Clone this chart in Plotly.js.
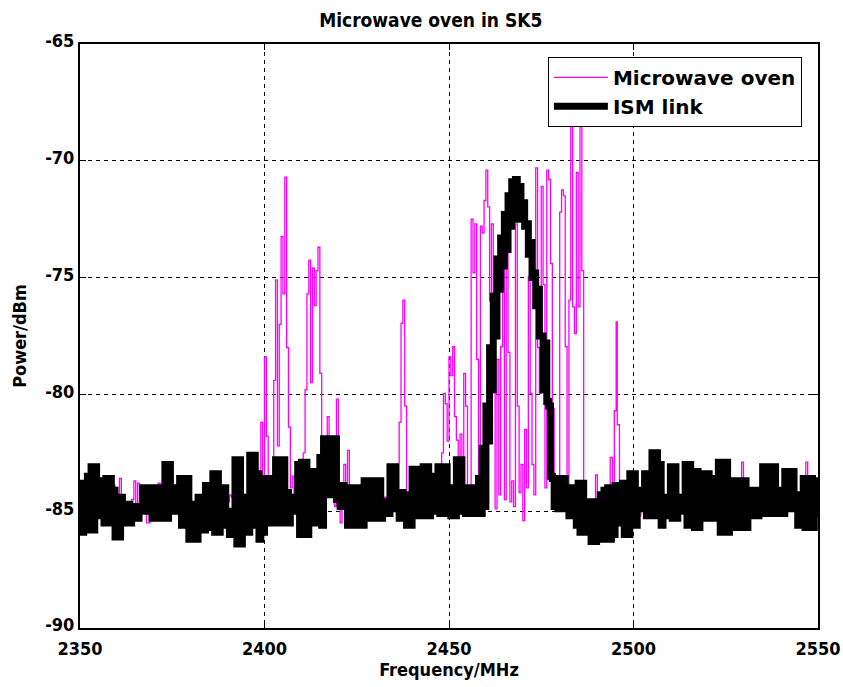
<!DOCTYPE html>
<html>
<head>
<meta charset="utf-8">
<script src="https://cdn.plot.ly/plotly-3.0.1.min.js"></script>
<style>
  html, body { margin: 0; padding: 0; background: #ffffff; }
  #chart { width: 843px; height: 687px; }
</style>
</head>
<body>
<div id="chart"></div>
<script>
// ---------------- DATA ----------------
// Microwave oven spectrum (frequency in MHz, power in dBm)
const micFreq = [
  2350,2351,2352,2353,2354,2355,2356,2357,2358,2359,
  2359.5,2360,2360.7,2361.2,2362,2363,2364,2364.6,2365.1,2365.6,
  2366.1,2367,2368,2369,2370,2371.2,2371.7,2372.5,2374,2375,
  2376,2377,2378,2379,2380,2381,2382,2383,2384,2385,
  2386,2387,2388,2389,2390,2390.5,2391,2391.5,2392,2393,
  2394,2395,2396,2397,2398,2398.5,2399,2399.5,2400,2400.5,
  2401,2401.5,2402,2402.5,2403,2403.5,2404,2404.5,2405,2405.5,
  2406,2406.5,2407,2407.5,2408,2408.5,2409,2409.5,2410,2410.5,
  2411,2411.5,2412,2412.5,2413,2413.5,2414,2414.5,2415,2415.5,
  2416,2416.5,2417,2417.5,2418,2418.5,2419,2419.5,2420,2420.5,
  2421,2421.5,2422,2422.5,2423,2423.5,2424,2425,2426,2426.8,
  2427.3,2428,2429,2430,2431,2432,2432.6,2433,2434,2435,
  2436,2436.5,2437,2437.5,2438,2438.5,2439,2440,2441,2442,
  2443,2444,2445,2446,2447,2447.5,2448,2448.5,2449,2449.5,
  2450,2450.5,2451,2451.5,2452,2452.5,2453,2453.5,2454,2454.5,
  2455,2455.5,2456,2456.5,2457,2457.5,2458,2458.5,2459,2459.5,
  2460,2460.5,2461,2461.5,2462,2462.5,2463,2463.5,2464,2464.5,
  2465,2465.5,2466,2466.5,2467,2467.5,2468,2468.5,2469,2469.5,
  2470,2470.5,2471,2471.5,2472,2472.5,2473,2473.5,2474,2474.5,
  2475,2475.5,2476,2476.5,2477,2477.5,2478,2478.5,2479,2479.5,
  2480,2480.5,2481,2481.5,2482,2482.5,2483,2483.5,2484,2484.5,
  2485,2485.5,2486,2486.5,2487,2488,2489,2489.7,2490.2,2491,
  2492,2493,2493.7,2494.3,2494.8,2495.3,2495.6,2496.2,2497,2498,
  2499,2500,2501,2502,2503,2504,2505,2506,2507,2508,
  2509,2510,2511,2512,2513,2514,2515,2516,2517,2518,
  2519,2520,2521,2522,2523,2524,2525,2526,2527,2528,
  2529,2529.3,2529.8,2530.5,2531,2532,2533,2534,2535,2536,
  2537,2537.9,2538.4,2539,2540,2541,2542,2543,2544,2545,
  2546,2546.7,2547.2,2548,2549,2550
];
const micPower = [
  -85.0,-84.6,-85.3,-84.7,-85.2,-84.8,-85.4,-84.9,-85.2,-83.9,
  -85.0,-84.6,-83.6,-85.1,-84.8,-85.0,-84.5,-83.7,-84.9,-83.8,
  -84.6,-85.0,-85.5,-85.3,-84.7,-83.8,-84.9,-85.1,-84.8,-85.0,
  -84.6,-85.2,-84.7,-85.0,-84.9,-85.2,-84.8,-85.1,-84.6,-85.0,
  -84.8,-85.3,-84.7,-85.0,-84.6,-84.3,-84.4,-85.0,-84.8,-85.2,
  -84.7,-85.0,-84.5,-84.9,-85.1,-84.6,-81.2,-84.5,-78.4,-81.8,
  -84.8,-85.3,-84.9,-79.4,-75.1,-82.2,-77.0,-73.25,-75.7,-70.7,
  -78.0,-81.4,-84.0,-83.5,-85.0,-84.7,-85.2,-84.8,-85.0,-82.5,
  -79.8,-75.7,-74.25,-79.5,-74.6,-76.2,-74.7,-73.7,-79.1,-83.0,
  -84.5,-83.5,-80.95,-83.0,-84.3,-83.8,-84.8,-80.2,-84.9,-85.5,
  -84.8,-83.0,-84.5,-82.4,-84.6,-85.0,-84.8,-85.1,-84.7,-83.7,
  -85.0,-84.6,-85.1,-84.8,-85.2,-84.9,-84.4,-85.1,-84.8,-85.0,
  -84.7,-81.2,-76.96,-75.96,-80.5,-84.6,-85.0,-84.7,-85.2,-84.8,
  -85.0,-84.6,-85.1,-84.8,-85.0,-84.0,-82.5,-79.96,-80.4,-82.0,
  -78.4,-79.2,-77.96,-80.95,-81.96,-84.0,-81.7,-83.5,-79.1,-80.5,
  -83.95,-84.8,-72.5,-74.8,-72.7,-78.5,-84.0,-72.8,-73.1,-71.7,
  -70.4,-71.97,-76.0,-72.7,-77.96,-84.9,-78.5,-84.3,-77.96,-72.97,
  -84.5,-71.5,-78.2,-84.6,-83.7,-84.8,-72.7,-80.5,-84.2,-83.0,
  -85.4,-81.5,-84.0,-74.96,-79.96,-83.0,-84.3,-70.3,-78.0,-79.96,
  -71.1,-75.3,-84.0,-70.4,-70.8,-74.4,-80.6,-84.6,-84.8,-83.5,
  -72.2,-71.25,-71.5,-77.96,-84.5,-75.96,-68.5,-76.25,-77.4,-70.5,
  -76.25,-68.26,-74.7,-84.5,-85.0,-84.6,-85.1,-83.45,-84.9,-85.2,
  -84.7,-85.0,-82.7,-84.3,-80.7,-76.9,-81.3,-84.8,-85.3,-84.8,
  -85.0,-84.6,-85.2,-84.8,-85.1,-84.7,-85.0,-84.8,-85.3,-84.9,
  -85.0,-84.6,-85.2,-84.8,-85.0,-84.7,-85.1,-84.9,-85.0,-84.6,
  -85.2,-84.8,-85.0,-84.5,-85.1,-84.8,-85.0,-84.7,-85.3,-84.8,
  -84.5,-82.9,-84.9,-85.2,-84.8,-85.0,-84.7,-85.1,-84.8,-85.0,
  -84.6,-83.1,-85.0,-84.3,-85.1,-84.8,-85.0,-84.7,-85.2,-84.9,
  -85.0,-82.9,-84.8,-85.1,-84.7,-85.0
];

// ISM link spectrum: sweep 2350..2550 MHz, 1 MHz bins; upper and lower
// excursions of the trace inside each bin (dBm)
const ismStartMHz = 2350;
const ismStepMHz = 1;
const ismHi = [
  -83.8,-83.8,-83.5,-83.1,-83.1,-83.7,-84.1,-83.6,-83.6,-84.1,
  -84.4,-84.4,-84.7,-84.7,-84.8,-84.8,-84.8,-84.0,-84.0,-84.0,
  -84.0,-84.0,-84.6,-83.0,-83.0,-84.0,-84.0,-83.6,-83.6,-83.6,
  -84.7,-84.7,-84.4,-84.4,-83.9,-83.9,-83.4,-83.4,-84.3,-84.0,
  -85.0,-85.0,-82.8,-82.8,-84.4,-84.4,-82.6,-82.6,-83.4,-83.9,
  -83.6,-83.6,-84.7,-82.8,-82.8,-82.8,-84.2,-84.4,-84.4,-83.0,
  -82.9,-82.9,-84.4,-83.3,-83.3,-82.7,-81.9,-81.9,-81.9,-81.9,
  -83.9,-83.9,-84.0,-84.0,-84.0,-84.0,-84.0,-83.7,-83.7,-83.7,
  -83.7,-83.7,-84.6,-84.6,-83.1,-83.1,-84.2,-84.2,-84.3,-84.3,
  -83.2,-83.2,-84.2,-83.1,-83.1,-83.5,-83.5,-83.1,-83.1,-83.1,
  -84.0,-84.0,-82.8,-82.8,-84.0,-84.0,-84.0,-84.0,-83.6,-82.3,
  -80.5,-78.0,-75.8,-74.2,-73.3,-72.3,-71.5,-70.9,-70.8,-71.1,
  -71.8,-72.7,-73.5,-74.8,-75.5,-77.5,-77.8,-80.5,-83.6,-83.6,
  -83.6,-83.6,-84.0,-84.0,-84.4,-83.8,-83.8,-84.7,-84.6,-84.6,
  -84.7,-84.3,-84.1,-84.0,-84.1,-83.9,-83.9,-83.8,-83.8,-83.4,
  -83.4,-84.1,-84.1,-83.4,-83.4,-82.5,-82.5,-83.0,-84.4,-84.4,
  -83.1,-83.1,-84.4,-84.4,-83.0,-83.0,-83.3,-83.3,-83.4,-83.4,
  -83.4,-83.6,-83.6,-82.9,-82.9,-82.9,-83.7,-83.7,-83.7,-83.7,
  -83.7,-84.1,-84.1,-84.1,-84.4,-83.1,-83.1,-83.1,-83.1,-84.1,
  -84.1,-83.3,-83.3,-83.3,-84.3,-84.3,-83.6,-83.6,-83.6,-83.7,
  -83.7
];
const ismLo = [
  -85.9,-85.8,-85.8,-85.8,-85.2,-85.2,-85.5,-85.5,-85.5,-86.1,
  -86.1,-85.5,-85.5,-85.5,-85.3,-85.3,-85.0,-85.0,-85.0,-85.3,
  -85.3,-85.3,-85.3,-85.3,-85.0,-85.0,-85.0,-85.6,-85.6,-86.2,
  -86.2,-86.2,-85.8,-85.8,-85.7,-85.7,-85.9,-85.9,-85.6,-85.6,
  -86.0,-86.0,-86.4,-86.4,-85.9,-85.9,-85.6,-85.6,-86.2,-85.9,
  -85.5,-85.5,-85.5,-85.5,-85.5,-85.5,-85.5,-85.0,-85.0,-86.0,
  -86.0,-86.0,-84.8,-85.5,-85.5,-85.6,-84.3,-84.3,-84.3,-84.5,
  -84.8,-84.8,-85.6,-85.6,-85.6,-85.6,-85.6,-85.3,-85.3,-85.3,
  -85.3,-85.3,-85.1,-85.1,-84.9,-84.9,-85.3,-85.3,-85.6,-85.6,
  -85.2,-85.2,-85.1,-85.2,-85.2,-85.0,-85.0,-85.1,-85.1,-85.1,
  -85.2,-85.2,-85.0,-85.0,-85.1,-85.1,-85.1,-85.1,-85.1,-84.8,
  -82.0,-79.8,-77.5,-75.5,-74.5,-73.8,-72.8,-72.3,-72.5,-72.5,
  -72.8,-74.0,-75.0,-76.2,-77.5,-79.8,-80.3,-83.5,-84.8,-84.9,
  -84.9,-84.9,-85.2,-85.2,-85.6,-85.9,-85.9,-85.9,-86.3,-86.3,
  -85.9,-86.2,-86.2,-86.2,-86.0,-85.5,-85.5,-86.0,-86.0,-85.6,
  -85.6,-84.9,-84.9,-85.2,-85.2,-85.2,-85.2,-85.6,-85.2,-85.2,
  -85.3,-85.3,-85.0,-85.0,-85.6,-85.6,-85.7,-85.7,-85.2,-85.3,
  -85.3,-85.3,-85.3,-85.9,-85.9,-85.9,-85.6,-85.7,-85.7,-85.7,
  -85.7,-85.2,-85.2,-85.2,-84.9,-85.1,-85.1,-85.1,-85.1,-85.1,
  -85.1,-84.9,-84.9,-84.9,-85.6,-85.6,-85.7,-85.7,-85.7,-85.1,
  -85.1
];

const xTicks = [2350, 2400, 2450, 2500, 2550];
const yTicks = [-90, -85, -80, -75, -70, -65];

// ---------------- BUILD TRACES ----------------
const ismX = [], ismY = [];
for (let i = 0; i < ismHi.length; i++) {
  const f = ismStartMHz + i * ismStepMHz;
  ismX.push(f, f + ismStepMHz / 2);
  ismY.push(ismHi[i], ismLo[i]);
}

const fontNarrow = "'DejaVu Sans Condensed', 'Liberation Sans Narrow', 'Liberation Sans', Arial, sans-serif";
const fontWide = "'DejaVu Sans', 'Liberation Sans', Arial, sans-serif";

const traces = [
  {
    x: micFreq, y: micPower, type: 'scatter', mode: 'lines',
    name: 'Microwave oven',
    line: { color: '#ff00ff', width: 1.3, shape: 'hv', simplify: false }
  },
  {
    x: ismX, y: ismY, type: 'scatter', mode: 'lines',
    name: 'ISM link',
    line: { color: '#000000', width: 7, shape: 'hv', simplify: false }
  }
];

const axisCommon = {
  showline: true, linecolor: '#000', linewidth: 2, mirror: 'ticks',
  ticks: 'inside', ticklen: 6, tickcolor: '#000', tickwidth: 1,
  showgrid: true, gridcolor: '#000', gridwidth: 1, griddash: '4px,4px',
  zeroline: false,
  tickfont: { family: fontNarrow, size: 18, color: '#000', weight: 'bold' }
};

const layout = {
  width: 843, height: 687,
  margin: { l: 80, r: 25, t: 44, b: 59, pad: 0 },
  paper_bgcolor: '#fff', plot_bgcolor: '#fff',
  showlegend: true,
  title: {
    text: 'Microwave oven in SK5',
    font: { family: fontNarrow, size: 19, color: '#000', weight: 'bold' },
    xref: 'container', x: 0.511, xanchor: 'center',
    yref: 'container', y: 0.971, yanchor: 'middle'
  },
  xaxis: Object.assign({}, axisCommon, {
    range: [2350, 2550], tickvals: xTicks, ticktext: xTicks.map(String),
    ticklabelstandoff: 3,
    title: { text: 'Frequency/MHz', standoff: 3,
      font: { family: fontNarrow, size: 18, color: '#000', weight: 'bold' } }
  }),
  yaxis: Object.assign({}, axisCommon, {
    range: [-90, -65], tickvals: yTicks, ticktext: yTicks.map(String),
    ticklabelshift: -3,
    title: { text: 'Power/dBm', standoff: 14,
      font: { family: fontNarrow, size: 18, color: '#000', weight: 'bold' } }
  }),
  legend: {
    x: 0.634, y: 0.978, xanchor: 'left', yanchor: 'top',
    bgcolor: '#fff', bordercolor: '#000', borderwidth: 1,
    font: { family: fontWide, size: 20, color: '#000', weight: 'bold' },
    itemwidth: 54,
    tracegroupgap: 0
  }
};

Plotly.newPlot('chart', traces, layout, { displayModeBar: false, staticPlot: true });
</script>
</body>
</html>
